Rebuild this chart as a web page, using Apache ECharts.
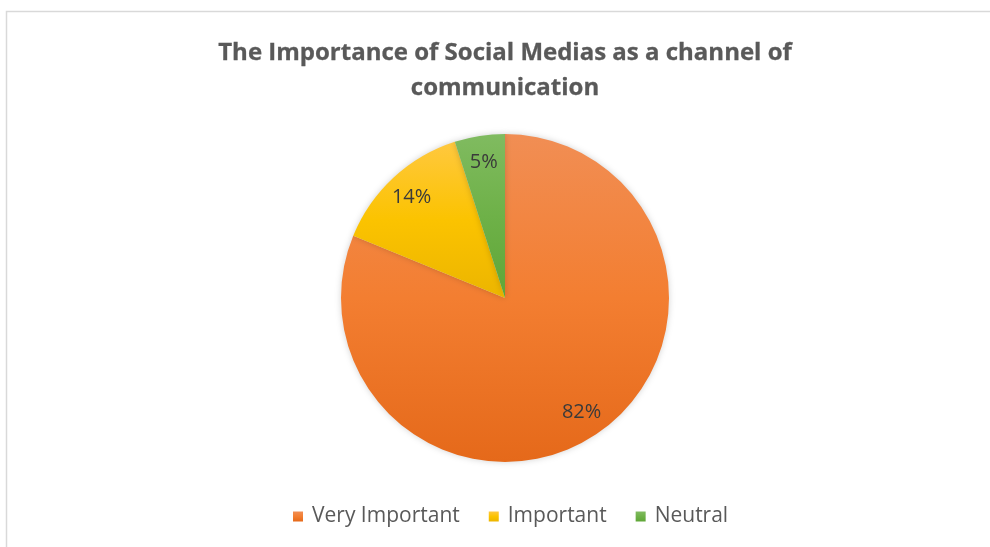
<!DOCTYPE html>
<html>
<head>
<meta charset="utf-8">
<script src="https://cdn.jsdelivr.net/npm/echarts@6/dist/echarts.min.js"></script>
<style>
  html, body { margin: 0; padding: 0; background: #fff; }
  #chart { width: 990px; height: 547px; }
</style>
</head>
<body>
<div id="chart"></div>
<script>
// Survey responses (percent)
const categories = ['Very Important', 'Important', 'Neutral'];
const values = [82, 14, 5];

// Top, middle and bottom gradient colours for each slice
const topColors = ['#f18e54', '#ffc83f', '#80bb60'];
const midColors = ['#f37e31', '#fbc300', '#6eb148'];
const bottomColors = ['#e5691a', '#ecb500', '#5fa637'];

const FONT = '"Open Sans", Lato, sans-serif';

const center = [505, 298];
const R = 164;

function grad(i) {
  return new echarts.graphic.LinearGradient(0, 0, 0, 1, [
    { offset: 0, color: topColors[i] },
    { offset: 0.5, color: midColors[i] },
    { offset: 1, color: bottomColors[i] }
  ]);
}

const pieData = categories.map((name, i) => ({
  name: name,
  value: values[i],
  itemStyle: { color: grad(i) }
}));

const labelData = categories.map((name, i) => ({
  name: name,
  value: values[i]
}));

const chart = echarts.init(document.getElementById('chart'), null, { renderer: 'canvas' });

chart.setOption({
  animation: false,
  backgroundColor: '#ffffff',
  color: midColors,
  graphic: [{
    type: 'rect',
    shape: { x: 6.5, y: 11.5, width: 1100, height: 700 },
    style: { fill: 'none', stroke: '#d9d9d9', lineWidth: 1.5 },
    silent: true
  }],
  title: {
    text: 'The Importance of Social Medias as a channel of\ncommunication',
    left: 500,
    textAlign: 'center',
    top: 31,
    textStyle: {
      fontFamily: FONT,
      fontWeight: 'bold',
      fontSize: 24,
      lineHeight: 35,
      color: '#595959',
      textBorderColor: '#595959',
      textBorderWidth: 0.3
    }
  },
  legend: {
    data: categories,
    bottom: 15,
    left: 288,
    icon: 'rect',
    itemWidth: 10,
    itemHeight: 10,
    itemGap: 29,
    textStyle: {
      fontFamily: FONT,
      fontSize: 21,
      color: '#595959',
      padding: [0, 0, 0, 4]
    }
  },
  series: [
    {
      type: 'pie',
      center: center,
      radius: [0, R],
      startAngle: 90,
      clockwise: true,
      data: pieData,
      label: { show: false },
      labelLine: { show: false },
      itemStyle: {
        borderWidth: 0,
        shadowBlur: 6,
        shadowColor: 'rgba(0,0,0,0.18)'
      },
      emphasis: { disabled: true }
    },
    {
      // transparent ring used to place the value labels near the rim
      type: 'pie',
      center: center,
      radius: [R * 0.64, R],
      startAngle: 90,
      clockwise: true,
      silent: true,
      data: labelData,
      itemStyle: { color: 'rgba(0,0,0,0)' },
      label: {
        show: true,
        position: 'inside',
        formatter: p => p.value + '%',
        fontFamily: FONT,
        fontSize: 20,
        color: '#3a3a3a'
      },
      labelLine: { show: false },
      emphasis: { disabled: true }
    }
  ]
});
</script>
</body>
</html>
